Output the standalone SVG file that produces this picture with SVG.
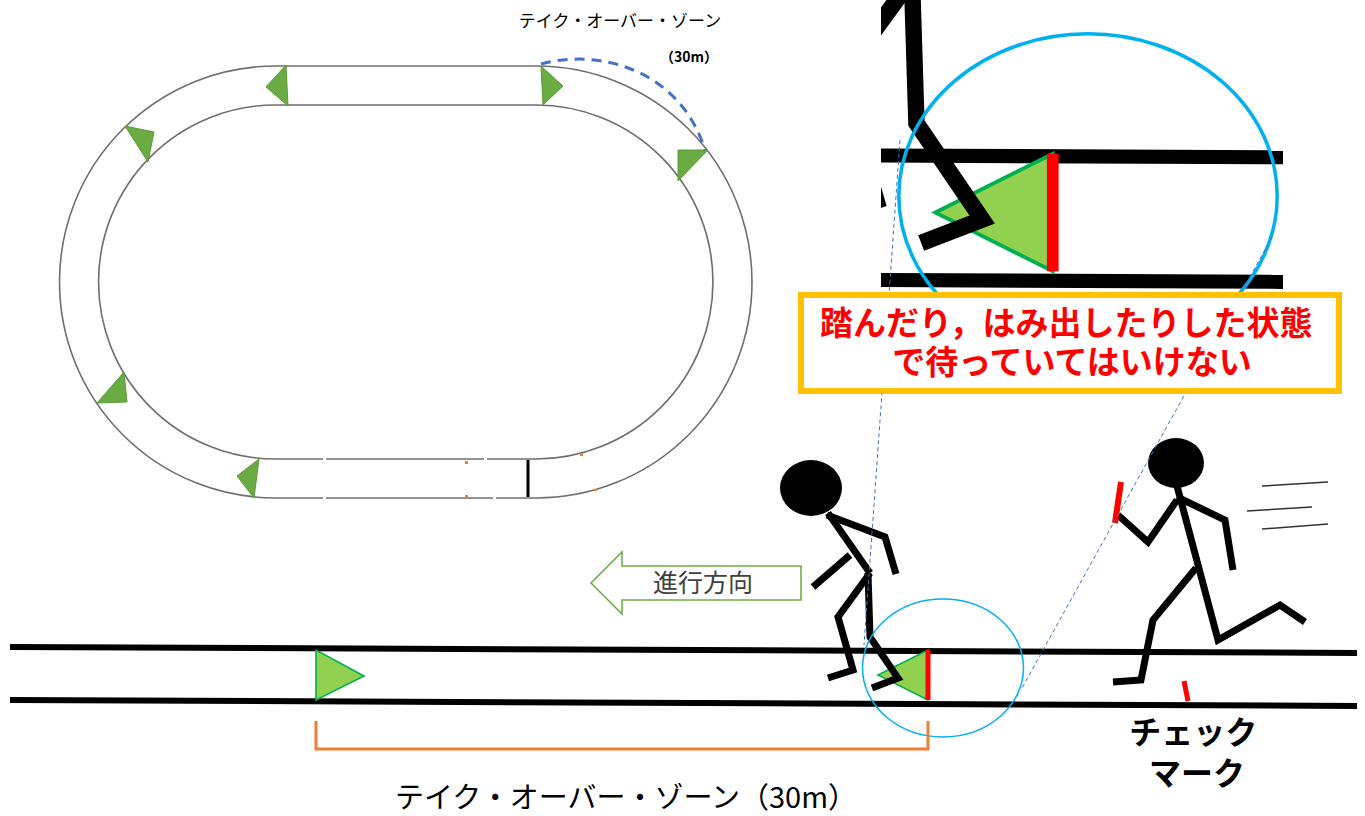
<svg xmlns="http://www.w3.org/2000/svg" xmlns:xlink="http://www.w3.org/1999/xlink" width="1365" height="816" viewBox="0 0 1365 816">
  <style>
    .trk{fill:none;stroke:#6e6e6e;stroke-width:1.6}
    .tri-o{fill:#6aab43;stroke:#5b9a37;stroke-width:1}
    .tri-b{fill:#92d050;stroke:#00b050;stroke-width:1.6}
    .lane{fill:none;stroke:#000;stroke-width:6}
    .limb{fill:none;stroke:#000;stroke-width:7;stroke-linejoin:miter;stroke-miterlimit:10}
    .ring{fill:none;stroke:#00b0f0;stroke-width:1.5}
    .guide{fill:none;stroke:#4472c4;stroke-width:1;stroke-dasharray:4 3}
    .jp{font-family:"Noto Sans CJK JP","Noto Sans",sans-serif}
    .speed{fill:none;stroke:#333;stroke-width:1.5}
  </style>
  <defs>
    <clipPath id="insetClip"><rect x="881" y="0" width="402" height="292"/></clipPath>
  </defs>

  <rect width="1365" height="816" fill="#fff"/>

  <!-- oval track overview -->
  <g id="oval">
    <path class="trk" d="M275.5,66 L536,66 A216,216 0 0 1 536,498 L275.5,498 A216,216 0 0 1 275.5,66 Z"/>
    <path class="trk" d="M275.5,105 L536,105 A177,177 0 0 1 536,459 L275.5,459 A177,177 0 0 1 275.5,105 Z"/>
    <g fill="#fff">
      <rect x="323" y="457" width="3" height="5"/>
      <rect x="323" y="495" width="3" height="5"/>
      <rect x="484" y="457" width="3" height="5"/>
      <rect x="493" y="495" width="3" height="5"/>
    </g>
    <line x1="528" y1="460" x2="528" y2="497" stroke="#000" stroke-width="3"/>
    <g fill="#ed7d31">
      <rect x="465" y="461" width="3" height="3"/>
      <rect x="465" y="495" width="3" height="3"/>
      <rect x="580" y="453" width="3" height="3"/>
      <rect x="594" y="489" width="3" height="2"/>
    </g>
    <polygon class="tri-o" points="286,65 288,106 266,87"/>
    <polygon class="tri-o" points="125,126 154,132 148,162"/>
    <polygon class="tri-o" points="541,66 543,105 563,86"/>
    <polygon class="tri-o" points="678,150 708,150 678,181"/>
    <polygon class="tri-o" points="124,372 127,402 97,403"/>
    <polygon class="tri-o" points="259,459 254,498 237,476"/>
    <path d="M541,64 C600,48 680,70 705,150" fill="none" stroke="#4472c4" stroke-width="3" stroke-dasharray="10 7"/>
  </g>

  <g id="oval-labels" class="jp">
    <text x="620" y="27" font-size="17" text-anchor="middle" fill="#000">テイク・オーバー・ゾーン</text>
    <text x="689" y="62" font-size="14" font-weight="bold" text-anchor="middle" fill="#000">（30m）</text>
  </g>

  <!-- straight lane with the outgoing runner at the zone mark -->
  <g id="scene">
    <line class="lane" x1="10" y1="647" x2="1357" y2="653"/>
    <line class="lane" x1="10" y1="700" x2="1357" y2="706"/>
    <polygon class="tri-b" points="928,650 928,700 878,675"/>
    <rect x="925.5" y="650" width="5" height="50" fill="#ff0000"/>
    <g id="runner-waiting">
      <ellipse cx="811" cy="488" rx="31" ry="28" fill="#000"/>
      <polyline class="limb" points="828,513 870,573"/>
      <polyline class="limb" points="827,515 885,537 896,574"/>
      <polyline class="limb" points="850,555 813,587"/>
      <polyline class="limb" points="870,573 838,617 853,670 828,678"/>
      <polyline class="limb" points="868,573 870,637 898,678 872,688"/>
    </g>
    <ellipse class="ring" cx="943" cy="668" rx="80.5" ry="69"/>
  </g>

  <!-- enlarged view of the mark -->
  <g id="inset" clip-path="url(#insetClip)">
    <use href="#scene" xlink:href="#scene" transform="translate(-1128.05,-1373.8) scale(2.35)"/>
  </g>

  <g id="start-mark">
    <polygon class="tri-b" points="316,650 316,700 364,676"/>
  </g>

  <g id="zone-bracket">
    <polyline points="316,721 316,749 928,749 928,721" fill="none" stroke="#ed7d31" stroke-width="3"/>
  </g>

  <g id="runner-incoming">
    <ellipse cx="1176" cy="463" rx="28" ry="25" fill="#000"/>
    <polyline class="limb" points="1177,486 1218,640 1280,605 1305,622"/>
    <polyline class="limb" points="1196,568 1153,620 1141,680 1113,682"/>
    <polyline class="limb" points="1177,497 1225,520 1233,570"/>
    <polyline class="limb" points="1177,500 1148,542 1118,515"/>
    <line x1="1121" y1="482" x2="1115" y2="523" stroke="#ff0000" stroke-width="6"/>
    <line class="speed" x1="1262" y1="486" x2="1328" y2="482"/>
    <line class="speed" x1="1247" y1="511" x2="1312" y2="507"/>
    <line class="speed" x1="1262" y1="529" x2="1328" y2="524"/>
  </g>

  <g id="check-mark">
    <line x1="1184" y1="681" x2="1188" y2="701" stroke="#ff0000" stroke-width="5"/>
    <text class="jp" font-size="32" font-weight="bold" text-anchor="middle" fill="#000">
      <tspan x="1197" y="744">チェック</tspan>
      <tspan x="1197" y="785">マーク</tspan>
    </text>
  </g>

  <g id="direction">
    <path d="M591,583 L622,552 L622,566 L801,566 L801,600 L622,600 L622,614 Z" fill="#fff" stroke="#70ad47" stroke-width="1.6"/>
    <text class="jp" x="703" y="592" font-size="25" text-anchor="middle" fill="#404040">進行方向</text>
  </g>

  <g id="zone-label">
    <text class="jp" x="626" y="808" font-size="29" text-anchor="middle" fill="#000">テイク・オーバー・ゾーン（30m）</text>
  </g>

  <g id="connectors">
    <line class="guide" x1="900" y1="140" x2="864" y2="645"/>
    <line class="guide" x1="1272" y1="237" x2="1022" y2="688"/>
  </g>

  <g id="warning">
    <rect x="801" y="295" width="538" height="96" fill="#fff" stroke="#ffc000" stroke-width="6"/>
    <text class="jp" font-size="33" font-weight="bold" text-anchor="middle" fill="#ff0000">
      <tspan x="1070" y="335">踏んだり，はみ出したりした状態</tspan>
      <tspan x="1072" y="374">で待っていてはいけない</tspan>
    </text>
  </g>
</svg>
